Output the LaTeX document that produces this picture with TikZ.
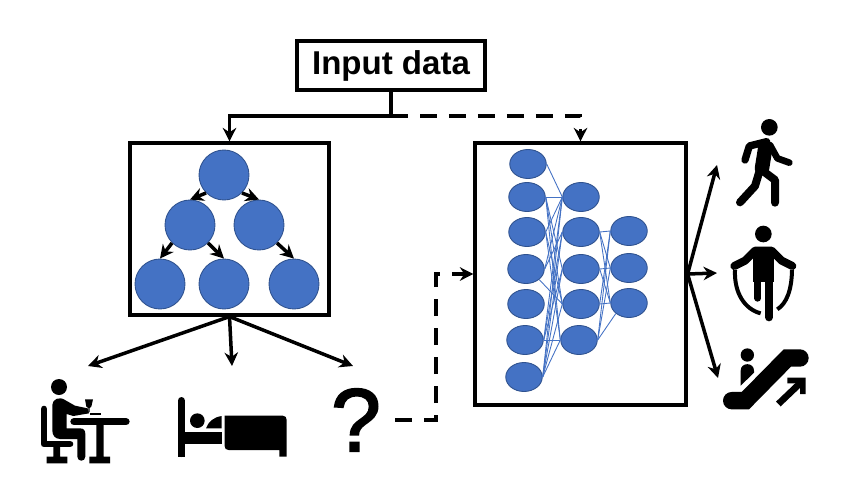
\documentclass[tikz,border=0pt]{standalone}
\usepackage{fontspec}
\setmainfont{Liberation Sans}
\newfontfamily\askfont[FakeBold=2]{Liberation Sans}
\usetikzlibrary{shapes.geometric, arrows.meta}
\definecolor{nodeblue}{HTML}{4472C4}
\definecolor{nodeedge}{HTML}{2F528F}
\tikzset{
  framebox/.style = {draw, line width = 0.065cm, inner sep = 0pt},
  treenode/.style = {circle, draw = nodeedge, fill = nodeblue, line width = 0.5pt, minimum size = 1cm, inner sep = 0pt},
  netnode/.style = {ellipse, draw = nodeedge, fill = nodeblue, line width = 0.5pt, minimum width = 0.73cm, minimum height = 0.58cm, inner sep = 0pt},
  link/.style = {draw = nodeblue, line width = 0.5pt},
  flow/.style = {->, line width = 0.07cm},
  flowdash/.style = {->, line width = 0.07cm, dash pattern = on 0.34cm off 0.24cm},
  icon/.style = {fill = black, draw = none},
  limb/.style = {draw = black, line cap = round, line join = round}
}
\begin{document}
\begin{tikzpicture}[x = 0.02cm, y = -0.02cm, >= {Stealth[length = 0.27cm, width = 0.27cm]}]
  \useasboundingbox (0,0) rectangle (861,494);

  \node[framebox, minimum width = 3.76cm, minimum height = 0.98cm, font = \fontsize{18.8pt}{20pt}\selectfont\bfseries] (input) at (391,65.5) {Input data};
  \node[framebox, minimum width = 3.98cm, minimum height = 3.44cm] (treebox) at (229.5,229) {};
  \node[framebox, minimum width = 4.22cm, minimum height = 5.24cm] (netbox) at (580.5,274) {};

  \coordinate (split) at (391,116);
  \draw[flow] (input.south) -- (split) -| (treebox.north);
  \draw[flowdash] (split) -| (netbox.north);

  \node[treenode] (root) at (224,175) {};
  \node[treenode] (left) at (190,225) {};
  \node[treenode] (right) at (259,225) {};
  \node[treenode] (leafa) at (160,284) {};
  \node[treenode] (leafb) at (224,284) {};
  \node[treenode] (leafc) at (294,284) {};
  \foreach \from/\to in {root.south west/left.north, root.south east/right.north, left.south west/leafa.north,
                         left.south east/leafb.north, right.south east/leafc.north}
    \draw[flow] (\from) -- (\to);

  \foreach \name/\x/\y in {ina/528/164, inb/527/197, inc/527/232, ind/526/269, ine/526/304, inf/525/340, ing/524/377,
                           mida/581/197, midb/581/232, midc/581/269, midd/581/304, mide/579/340,
                           outa/629/231, outb/629/268, outc/629/303}
    \node[netnode] (\name) at (\x,\y) {};
  \foreach \from/\to in {ina.east/mida.west, inb.east/mida.west, inb.east/midc.west, inb.east/midd.west, inb.east/mide.west,
                         inc.east/mida.west, inc.east/midd.west, inc.east/mide.west,
                         ind.east/mida.west, ind.east/midb.west, ind.south east/midd.west,
                         inf.east/mida.west, inf.east/midb.west, inf.east/midc.west, inf.east/mide.west,
                         ing.east/mida.west, ing.east/midb.west, ing.east/midc.west, ing.east/midd.west, ing.east/mide.west,
                         midb.east/outa.west, midb.east/outb.west, midb.east/outc.west, midc.east/outb.west, midc.east/outc.west,
                         midd.east/outa.west, midd.east/outc.west,
                         mide.east/outa.west, mide.east/outb.west, mide.east/outc.south west}
    \draw[link] (\from) -- (\to);

  \coordinate (toeat) at (88,366);
  \coordinate (tobed) at (232,366);
  \coordinate (toask) at (353,366);
  \draw[flow] (treebox.south) -- (toeat);
  \draw[flow] (treebox.south) -- (tobed);
  \draw[flow] (treebox.south) -- (toask);

  \node[font = \fontsize{51pt}{53pt}\selectfont\askfont, inner sep = 0pt] (ask) at (356,420) {?};
  \coordinate (dashstart) at (395,420);
  \coordinate (bend) at (436,420);
  \draw[flowdash] (dashstart) -- (bend) |- (netbox.west);

  \coordinate (towalk) at (717,165);
  \coordinate (tojump) at (717,273);
  \coordinate (toride) at (718,378);
  \draw[flow] (netbox.east) -- (towalk);
  \draw[flow] (netbox.east) -- (tojump);
  \draw[flow] (netbox.east) -- (toride);

  % sitting at a table
  \begin{scope}[shift = {(20,360)}, scale = 1/3]
    \fill[icon] (117,81) circle (24);
    \draw[limb, line width = 0.133cm] (72,147) -- (72,252) -- (150,252);
    \fill[icon] (100,252) rectangle (120,295) (80,290) rectangle (142,310);
    \fill[icon] (97,135) .. controls (97,118) and (118,108) .. (135,120) -- (165,137) -- (203,145) -- (207,160) -- (160,168) -- (140,162) -- (140,205) -- (180,205) .. controls (192,205) and (196,212) .. (196,222) -- (196,290) .. controls (196,306) and (172,306) .. (172,290) -- (172,237) -- (120,237) .. controls (105,237) and (97,225) .. (97,212) -- cycle;
    \draw[limb, line width = 0.147cm] (162,185) -- (318,185);
    \fill[icon] (229,190) rectangle (251,295) (208,290) rectangle (270,310);
    \fill[icon] (195,118) -- (219,118) -- (214,140) -- (209,144) -- (209,156) -- (205,156) -- (205,144) -- (199,140) -- cycle;
    \fill[icon] (210,159) rectangle (243,164);
  \end{scope}

  % lying in bed
  \begin{scope}[shift = {(20,360)}, scale = 1/3]
    \draw[limb, line width = 0.147cm] (484,122) -- (484,280);
    \fill[icon] (473,275) rectangle (495,290);
    \fill[icon] (532,182) circle (22);
    \fill[icon] (558,205) .. controls (565,185) and (580,172) .. (605,168) -- (605,205) -- cycle;
    \fill[icon] (495,215) rectangle (605,252);
    \fill[icon] (614,167) -- (788,167) .. controls (796,167) and (800,172) .. (800,180) -- (800,290) -- (778,290) -- (778,270) -- (626,270) .. controls (618,270) and (614,266) .. (614,258) -- cycle;
  \end{scope}

  % walking
  \begin{scope}[shift = {(690,110)}, scale = 1/3]
    \fill[icon] (238,52) circle (25);
    \draw[limb, line width = 0.147cm] (165,150) -- (178,108) -- (230,95);
    \draw[limb, line width = 0.29cm] (226,112) -- (216,175);
    \draw[limb, line width = 0.133cm] (240,105) -- (262,145) -- (298,158);
    \draw[limb, line width = 0.16cm] (208,185) -- (195,228) -- (150,277);
    \draw[limb, line width = 0.16cm] (215,180) -- (255,210) -- (255,278);
  \end{scope}

  % jumping rope
  \begin{scope}[shift = {(690,220)}, scale = 1/3]
    \fill[icon] (220,42) circle (25);
    \draw[limb, line width = 0.16cm] (133,138) -- (165,122) -- (195,92) -- (245,92) -- (275,122) -- (307,138);
    \fill[icon] (188,90) rectangle (252,185);
    \draw[limb, line width = 0.16cm] (237,180) -- (237,292);
    \draw[limb, line width = 0.133cm] (203,180) -- (203,235);
    \draw[line width = 0.08cm] (135,150) .. controls (132,220) and (165,268) .. (212,280);
    \draw[line width = 0.08cm] (306,150) .. controls (305,210) and (290,250) .. (262,268);
  \end{scope}

  % escalator
  \begin{scope}[shift = {(690,220)}, scale = 1/3]
    \fill[icon] (172,405) circle (20);
    \fill[icon] (152,497) -- (152,452) .. controls (152,426) and (192,426) .. (192,452) -- (192,458) -- cycle;
    \draw[line width = 0.347cm, line cap = round, line join = miter] (125,542) -- (166,542) -- (292,414) -- (330,414);
    \draw[line width = 0.133cm] (265,552) -- (330,490);
    \fill[icon] (292,473) -- (347,473) -- (347,522) -- (330,522) -- (330,490) -- (292,490) -- cycle;
  \end{scope}
\end{tikzpicture}
\end{document}
